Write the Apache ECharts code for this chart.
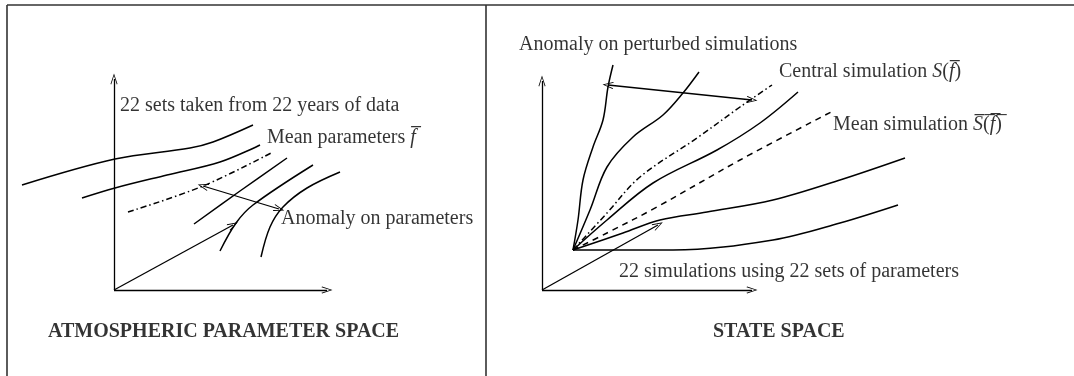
<!DOCTYPE html>
<html>
<head>
<meta charset="utf-8">
<script src="https://cdn.jsdelivr.net/npm/echarts@6/dist/echarts.min.js"></script>
<style>
html,body{margin:0;padding:0;background:#fff;}
#chart{width:1074px;height:376px;}
</style>
</head>
<body>
<div id="chart"></div>
<script>
// ---------- Left panel: atmospheric parameter space (origin = axis origin) ----------
const paramCurve1 = [[-92,105],[1,131],[76,142],[99,148],[139,165]];
const paramCurve2 = [[-32,92],[1,102],[53,115],[106,128],[146,145]];
const paramMean   = [[14,78],[89,104],[159,138]];
const paramCurve3 = [[80,66],[126,99],[173,132]];
const paramCurve4 = [[106,39],[122,67],[139,85],[199,125]];
const paramCurve5 = [[147,33],[156,63],[169,83],[193,102],[226,118]];
const paramYAxis  = [[0,0],[0,211]];
const paramXAxis  = [[0,0],[213,0]];
const paramVector = [[0,0],[119,65]];
const paramAnomaly = [[89,104],[165,81]];
const paramLabels = [
  {name:'22 sets taken from 22 years of data', at:[6,184]},
  {name:'Mean parameters {m|f\u0305}', at:[153,152]},
  {name:'Anomaly on parameters', at:[167,71]},
  {name:'{b|ATMOSPHERIC PARAMETER SPACE}', at:[-66,-42]}
];

// ---------- Right panel: state space ----------
const simCurveA = [[31,40],[36,70],[41,110],[51,143],[61,170],[66,203],[71,225]];
const simCurveB = [[31,40],[48,80],[65,123],[91,153],[121,175],[141,197],[157,218]];
const simCentral = [[31,40],[65,77],[98,113],[155,152],[198,183],[230,205]];
const simCurveC = [[31,40],[65,70],[111,107],[175,140],[218,167],[256,198]];
const simMean   = [[31,40],[65,57],[115,83],[198,130],[291,179]];
const simCurveD = [[31,40],[81,57],[118,70],[165,78],[231,90],[298,110],[363,132]];
const simCurveE = [[31,40],[131,40],[231,50],[298,67],[356,85]];
const simYAxis  = [[0,0],[0,209]];
const simXAxis  = [[0,0],[210,0]];
const simVector = [[0,0],[116,65]];
const simAnomaly = [[66,205],[210,190]];
const simLabels = [
  {name:'Anomaly on perturbed simulations', at:[-23,245]},
  {name:'Central simulation {m|S}({m|f\u0305})', at:[237,218]},
  {name:'Mean simulation {m|S\u0305}(\u0305{m|f\u0305})\u0305', at:[291,165]},
  {name:'22 simulations using 22 sets of parameters', at:[77,18]},
  {name:'{b|STATE SPACE}', at:[171,-42]}
];

const FONT = 'Liberation Serif';
const INK = '#000';
const chevron = 'path://M5,0L10,11L9,11.6L5,2.4L1,11.6L0,11Z';

function curve(data, gi, type) {
  return {
    type:'line', data:data, xAxisIndex:gi, yAxisIndex:gi,
    showSymbol:false, symbol:'none', smooth:0.35, silent:true, animation:false,
    lineStyle:{color:INK, width:1.5, type:type||'solid'}
  };
}
function arrow(seg, gi, both) {
  return {
    type:'line', data:[], xAxisIndex:gi, yAxisIndex:gi, silent:true, animation:false,
    markLine:{
      silent:true, animation:false,
      symbol:[both?chevron:'none', chevron], symbolSize:[7,11],
      label:{show:false},
      lineStyle:{color:INK, width:1.3, type:'solid'},
      emphasis:{disabled:true},
      data:[[{coord:seg[0]},{coord:seg[1]}]]
    }
  };
}
function labels(list, gi) {
  return {
    type:'scatter', xAxisIndex:gi, yAxisIndex:gi, symbolSize:0, silent:true, animation:false,
    data:list.map(d => ({value:d.at, name:d.name})),
    label:{
      show:true, position:'right', distance:0,
      formatter: p => p.name,
      color:INK, fontFamily:FONT, fontSize:20,
      rich:{
        m:{fontFamily:FONT, fontStyle:'italic', fontSize:20, color:INK},
        b:{fontFamily:FONT, fontWeight:'bold', fontSize:20, color:INK}
      }
    }
  };
}

const hiddenX = (min,max,gi) => ({type:'value', gridIndex:gi, min:min, max:max, show:false});
const hiddenY = (min,max,gi) => ({type:'value', gridIndex:gi, min:min, max:max, show:false});

const chart = echarts.init(document.getElementById('chart'), null, {renderer:'canvas'});
chart.setOption({
  backgroundColor:'#fff',
  animation:false,
  grid:[
    {left:7, top:0, width:479, height:376},
    {left:486, top:0, width:588, height:376}
  ],
  xAxis:[hiddenX(-107,372,0), hiddenX(-56,532,1)],
  yAxis:[hiddenY(-86,290,0), hiddenY(-86,290,1)],
  graphic:[
    {type:'line', shape:{x1:7,y1:5,x2:1074,y2:5}, style:{stroke:'#333', lineWidth:1.6}},
    {type:'line', shape:{x1:7,y1:5,x2:7,y2:376}, style:{stroke:'#333', lineWidth:1.6}},
    {type:'line', shape:{x1:486,y1:5,x2:486,y2:376}, style:{stroke:'#333', lineWidth:1.6}}
  ],
  series:[
    curve(paramCurve1,0), curve(paramCurve2,0), curve(paramMean,0,[6,3,1.5,3]),
    curve(paramCurve3,0), curve(paramCurve4,0), curve(paramCurve5,0),
    arrow(paramYAxis,0), arrow(paramXAxis,0), arrow(paramVector,0), arrow(paramAnomaly,0,true),
    labels(paramLabels,0),
    curve(simCurveA,1), curve(simCurveB,1), curve(simCentral,1,[6,3,1.5,3]),
    curve(simCurveC,1), curve(simMean,1,[6,5]), curve(simCurveD,1), curve(simCurveE,1),
    arrow(simYAxis,1), arrow(simXAxis,1), arrow(simVector,1), arrow(simAnomaly,1,true),
    labels(simLabels,1)
  ]
});
</script>
</body>
</html>
